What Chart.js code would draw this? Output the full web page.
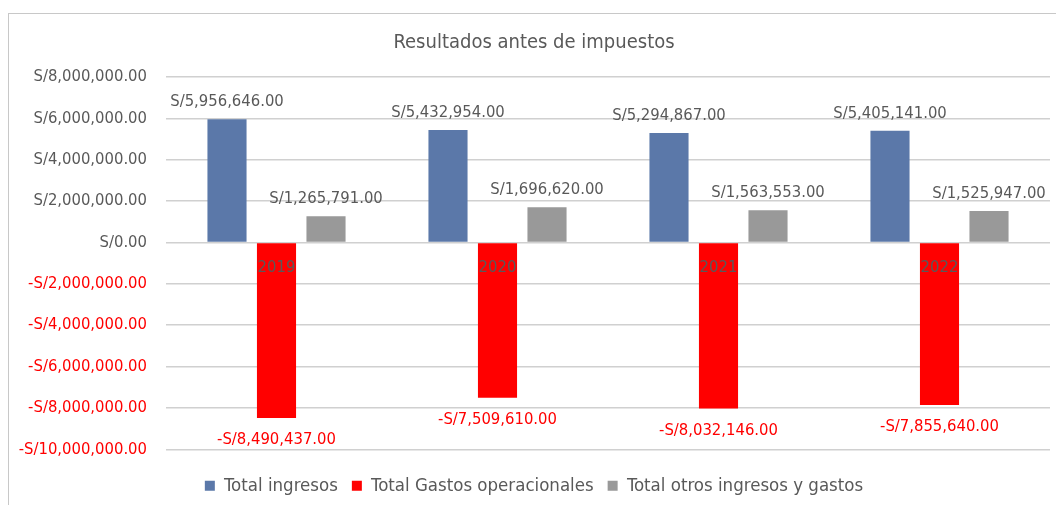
<!DOCTYPE html>
<html>
<head>
<meta charset="utf-8">
<script src="https://cdn.jsdelivr.net/npm/chart.js@4"></script>
<style>
  body { margin: 0; background: #fff; }
  #wrap { position: relative; width: 1056px; height: 505px; overflow: hidden; }
  #frame { position: absolute; left: 8px; top: 13px; width: 1100px; height: 600px; border: 1px solid #c8c8c8; }
  canvas { position: absolute; left: 0; top: 0; }
</style>
</head>
<body>
<div id="wrap">
  <div id="frame"></div>
  <canvas id="resultsChart" width="1056" height="505"></canvas>
</div>
<script>
const years = ["2019", "2020", "2021", "2022"];
const ingresos = [5956646, 5432954, 5294867, 5405141];
const gastos = [-8490437, -7509610, -8032146, -7855640];
const otros = [1265791, 1696620, 1563553, 1525947];

const FONT = "'Liberation Sans Narrow', 'Arial Narrow', 'DejaVu Sans Condensed', sans-serif";
const GREY_TEXT = "#595959";

function money(v) {
  const s = Math.abs(v).toLocaleString("en-US", { minimumFractionDigits: 2, maximumFractionDigits: 2 });
  return (v < 0 ? "-S/" : "S/") + s;
}

// value labels above / below each bar, plus year labels on the zero line
const barLabels = {
  id: "barLabels",
  afterDatasetsDraw(chart) {
    const ctx = chart.ctx;
    ctx.save();
    ctx.font = "16.5px " + FONT;
    ctx.textAlign = "center";
    ctx.textBaseline = "alphabetic";
    chart.data.datasets.forEach((ds, i) => {
      const meta = chart.getDatasetMeta(i);
      meta.data.forEach((bar, j) => {
        const v = ds.data[j];
        if (v < 0) {
          ctx.fillStyle = "#ff0000";
          ctx.fillText(money(v), bar.x, bar.y + 26);
        } else {
          ctx.fillStyle = GREY_TEXT;
          ctx.fillText(money(v), bar.x, bar.y - 13);
        }
      });
    });
    const xScale = chart.scales.x;
    const zero = chart.scales.y.getPixelForValue(0);
    ctx.fillStyle = GREY_TEXT;
    years.forEach((yr, i) => {
      ctx.fillText(yr, xScale.getPixelForValue(i), zero + 30);
    });
    ctx.restore();
  },
};

const ctx = document.getElementById("resultsChart").getContext("2d");
new Chart(ctx, {
  type: "bar",
  data: {
    labels: years,
    datasets: [
      { label: "Total ingresos", data: ingresos, backgroundColor: "#5b78a9" },
      { label: "Total Gastos operacionales", data: gastos, backgroundColor: "#ff0000" },
      { label: "Total otros ingresos y gastos", data: otros, backgroundColor: "#999999" },
    ],
  },
  options: {
    responsive: false,
    animation: false,
    categoryPercentage: 0.672,
    barPercentage: 0.79,
    layout: { padding: { left: 18, right: 6, top: 0, bottom: 0 } },
    plugins: {
      title: {
        display: true,
        text: "Resultados antes de impuestos",
        color: GREY_TEXT,
        font: { family: FONT, size: 20, weight: "normal" },
        padding: { top: 31, bottom: 22 },
      },
      legend: {
        position: "bottom",
        title: { display: true, text: " ", font: { size: 1 }, padding: { top: 0, bottom: 12 } },
        labels: {
          color: GREY_TEXT,
          font: { family: FONT, size: 18.5 },
          boxWidth: 10,
          boxHeight: 10,
          padding: 14,
        },
      },
      tooltip: { enabled: false },
    },
    scales: {
      x: {
        display: false,
      },
      y: {
        min: -10000000,
        max: 8000000,
        afterFit: (scale) => { scale.width = 148; },
        grid: { color: "#d0d0d0", lineWidth: 1.5, drawTicks: false },
        border: { display: false },
        ticks: {
          stepSize: 2000000,
          padding: 19,
          font: { family: FONT, size: 16.5 },
          color: (c) => (c.tick.value < 0 ? "#ff0000" : GREY_TEXT),
          callback: (v) => money(v),
        },
      },
    },
  },
  plugins: [barLabels],
});
</script>
</body>
</html>
